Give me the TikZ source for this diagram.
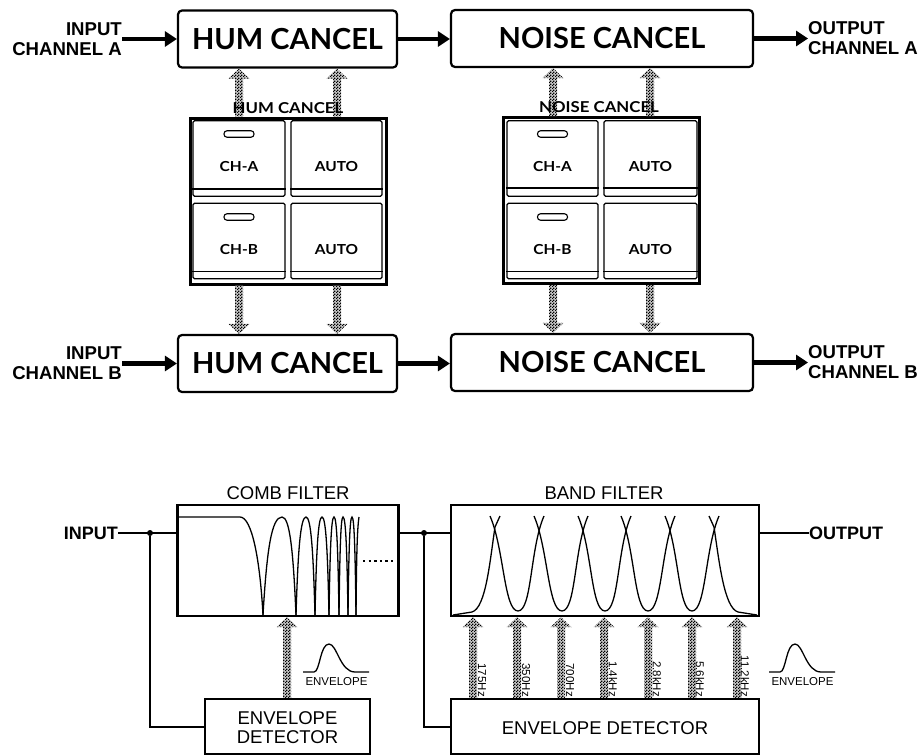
\documentclass[tikz,border=0pt]{standalone}
\usepackage{fontspec}
\setmainfont{Liberation Sans}
\newfontfamily\opt{Lato}
\newfontfamily\optwide[FakeStretch=1.12]{Lato}
\usetikzlibrary{arrows.meta,calc,patterns,positioning}
\pgfdeclarepatternformonly{checkfine}{\pgfpointorigin}{\pgfqpoint{3pt}{3pt}}{\pgfqpoint{3pt}{3pt}}{%
  \pgfpathrectangle{\pgfpointorigin}{\pgfqpoint{1.5pt}{1.5pt}}%
  \pgfpathrectangle{\pgfqpoint{1.5pt}{1.5pt}}{\pgfqpoint{1.5pt}{1.5pt}}%
  \pgfusepath{fill}}
\tikzset{
  rbox/.style={draw,line width=2.2pt,rounded corners=4pt,minimum height=57pt,inner sep=0pt,
    font=\opt\bfseries\fontsize{29}{29}\selectfont},
  sbox/.style={draw,line width=2.4pt,inner sep=0pt},
  sboxtxt/.style={inner sep=0pt,font=\fontsize{18.5}{19}\selectfont,align=center},
  panelbox/.style={draw,line width=3pt,inner sep=0pt},
  keybox/.style={draw,line width=1.1pt,rounded corners=1.5pt,inner sep=0pt,minimum height=75.5pt},
  slotbox/.style={draw,line width=1.1pt,rounded corners=3pt,minimum width=30pt,minimum height=6.5pt,inner sep=0pt},
  keytxt/.style={inner sep=0pt,font=\optwide\bfseries\fontsize{13.8}{14}\selectfont},
  ptitle/.style={inner sep=0pt,font=\optwide\fontsize{15}{15}\selectfont\bfseries},
  iolabel/.style={inner sep=0pt,font=\bfseries\fontsize{18.6}{20}\selectfont},
  ftitle/.style={inner sep=0pt,font=\fontsize{18.5}{20}\selectfont},
  envlabel/.style={inner sep=0pt,font=\fontsize{11.5}{12}\selectfont},
  freqlabel/.style={inner sep=0pt,rotate=-90,anchor=east,font=\fontsize{11.5}{12}\selectfont},
  mainarrow/.style={line width=4.5pt,-{Triangle[length=12pt,width=15pt]}},
  wire/.style={line width=2pt},
  curve/.style={line width=1.3pt},
  junction/.style={circle,fill=black,inner sep=0pt,minimum size=6pt},
  hatched/.style={pattern=checkfine,preaction={fill=black!22}}
}
\newcommand\hatcharrow[2]{%
  \coordinate (hs) at (#1);\coordinate (ht) at (#2);
  \coordinate (hb) at ($(ht)!10pt!(hs)$);
  \path[hatched] ($(hs)!4pt!90:(ht)$) -- ($(hb)!4pt!-90:(hs)$) -- ($(hb)!10.5pt!-90:(hs)$) -- (ht)
    -- ($(hb)!10.5pt!90:(hs)$) -- ($(hb)!4pt!90:(hs)$) -- ($(hs)!4pt!-90:(ht)$) -- cycle;
}
\newcommand\keypad[6]{% prefix, left centre, left width, right centre, right width, line y
  \node[keybox,minimum width=#3pt] (#1k1) at (#2,158.5) {};
  \node[keybox,minimum width=#5pt] (#1k2) at (#4,158.5) {};
  \node[keybox,minimum width=#3pt] (#1k3) at (#2,241) {};
  \node[keybox,minimum width=#5pt] (#1k4) at (#4,241) {};
  \draw[line width=1.6pt] (#1k1.west |- 0,#6) -- (#1k1.east |- 0,#6);
  \draw[line width=1.6pt] (#1k2.west |- 0,#6) -- (#1k2.east |- 0,#6);
  \draw[line width=1pt] (#1k3.west |- 0,271) -- (#1k3.east |- 0,271);
  \draw[line width=1pt] (#1k4.west |- 0,271) -- (#1k4.east |- 0,271);
  \node[slotbox] (#1s1) at (#2,134) {};
  \node[slotbox] (#1s3) at (#2,217) {};
  \node[keytxt] (#1t1) at (#2,167) {CH-A};
  \node[keytxt] (#1t2) at (#4,167) {AUTO};
  \node[keytxt] (#1t3) at (#2,250) {CH-B};
  \node[keytxt] (#1t4) at (#4,250) {AUTO};
}
\newcommand\envsketch[2]{% left x, name
  \draw[line width=1.3pt] (#1,672) -- (#1+11,672) .. controls (#1+17,672) and (#1+17,644) .. (#1+26,644)
    .. controls (#1+34,644) and (#1+37,672) .. (#1+52,672) -- (#1+66,672);
  \node[envlabel] (#2) at (#1+33.5,682) {ENVELOPE};
}
\begin{document}
\begin{tikzpicture}[x=1pt,y=-1pt]
\useasboundingbox (0,0) rectangle (921,755);
% top and bottom rows
\node[rbox,minimum width=219pt] (humA) at (287.5,39) {HUM CANCEL};
\node[rbox,minimum width=302pt] (noiseA) at (602,38.5) {NOISE CANCEL};
\node[rbox,minimum width=219pt] (humB) at (287.5,363.5) {HUM CANCEL};
\node[rbox,minimum width=302pt] (noiseB) at (602,362.5) {NOISE CANCEL};
\node[iolabel,align=right,anchor=east] (inA) at (122,39) {INPUT\\CHANNEL A};
\node[iolabel,align=right,anchor=east] (inB) at (122,363.5) {INPUT\\CHANNEL B};
\node[iolabel,align=left,anchor=west] (outA) at (808,38.5) {OUTPUT\\CHANNEL A};
\node[iolabel,align=left,anchor=west] (outB) at (808,362.5) {OUTPUT\\CHANNEL B};
\draw[mainarrow] (inA.east) -- (humA.west);
\draw[mainarrow] (humA.east) -- (humA.east -| noiseA.west);
\draw[mainarrow] (noiseA.east) -- (outA.west);
\draw[mainarrow] (inB.east) -- (humB.west);
\draw[mainarrow] (humB.east) -- (humB.east -| noiseB.west);
\draw[mainarrow] (noiseB.east) -- (outB.west);
% panels
\node[panelbox,minimum width=196pt,minimum height=166pt] (panelH) at (288,201) {};
\node[panelbox,minimum width=196pt,minimum height=166pt] (panelN) at (601.5,200.5) {};
\keypad{h}{239}{92}{336.5}{91}{189}
\keypad{n}{552.5}{91}{650.5}{93}{188}
% hatched arrows
\hatcharrow{239,0 |- panelH.north}{239,0 |- humA.south}
\hatcharrow{337,0 |- panelH.north}{337,0 |- humA.south}
\hatcharrow{553,0 |- panelN.north}{553,0 |- noiseA.south}
\hatcharrow{650,0 |- panelN.north}{650,0 |- noiseA.south}
\hatcharrow{239,0 |- panelH.south}{239,0 |- humB.north}
\hatcharrow{337,0 |- panelH.south}{337,0 |- humB.north}
\hatcharrow{553,0 |- panelN.south}{553,0 |- noiseB.north}
\hatcharrow{650,0 |- panelN.south}{650,0 |- noiseB.north}
\node[ptitle] (titleH) at (288,108) {HUM CANCEL};
\node[ptitle] (titleN) at (599,107) {NOISE CANCEL};
% lower section
\node[sbox,minimum width=221pt,minimum height=111pt] (comb) at (288,560.5) {};
\node[sbox,minimum width=308pt,minimum height=111pt] (band) at (605,560.5) {};
\node[sbox,minimum width=165pt,minimum height=55pt] (env1) at (287.5,726.5) {};
\node[sbox,minimum width=308pt,minimum height=55pt] (env2) at (605,726.5) {};
\node[sboxtxt] (env1t) at (287.5,728) {ENVELOPE\\DETECTOR};
\node[sboxtxt] (env2t) at (605,728) {ENVELOPE DETECTOR};
\node[ftitle] (combT) at (288,493) {COMB FILTER};
\node[ftitle] (bandT) at (604,493) {BAND FILTER};
\node[inner sep=0pt,font=\bfseries\fontsize{18}{20}\selectfont,anchor=east] (inL) at (118,533) {INPUT};
\node[inner sep=0pt,font=\bfseries\fontsize{18}{20}\selectfont,anchor=west] (outL) at (809,533) {OUTPUT};
\coordinate (in1) at (comb.west |- inL.east);
\node[junction] (j1) at (150,533) {};
\node[junction] (j2) at (424,533) {};
\draw[wire] (inL.east) -- (in1);
\draw[wire] (comb.east |- in1) -- (band.west |- in1);
\draw[wire] (band.east |- in1) -- (outL.west);
\draw[wire] (j1) |- (env1.west);
\draw[wire] (j2) |- (env2.west);
% comb response
\draw[curve] (179,517) -- (240,517) .. controls (252,517) and (260,560) .. (263,615);
\foreach \a/\p/\b in {263/282/296, 296/306/315, 315/322/329, 329/334/339, 339/343/348, 348/352/356}{
  \draw[curve] (\a,615) .. controls ({\a+0.2*(\p-\a)},550) and ({\p-0.55*(\p-\a)},517) .. (\p,517)
     .. controls ({\p+0.55*(\b-\p)},517) and ({\b-0.2*(\b-\p)},550) .. (\b,615);
}
\draw[curve] (356,615) .. controls (356.5,560) and (357,530) .. (359,517);
\draw[line width=2.4pt,dash pattern=on 2.4pt off 3.2pt] (363,561) -- (394,561);
% band response
\foreach \c/\b/\d in {495/518/539, 539/562/583, 583/605/626, 626/648/670, 670/692/714}{
  \draw[curve] (\c-5,516) .. controls (\c+9,548) and (\b-14,611) .. (\b,611)
     .. controls (\b+14,611) and (\d-9,548) .. (\d+5,516);
}
\draw[curve] (453,615) -- (472,612) .. controls (486,608) and (490,560) .. (495,527) -- (500,516);
\draw[curve] (757,615) -- (738,612) .. controls (724,608) and (719,560) .. (714,527) -- (709,516);
% arrows from detectors
\hatcharrow{287,0 |- env1.north}{287,0 |- comb.south}
\foreach \x/\l/\lx in {473/175Hz/482, 517/350Hz/526, 561/700Hz/570, 604/1.4kHz/613, 648/2.8kHz/657, 692/5.6kHz/700, 737/11.2kHz/745}{
  \hatcharrow{\x,0 |- env2.north}{\x,0 |- band.south}
  \node[freqlabel] (f\x) at (\lx,697) {\l};
}
\envsketch{303}{envA}
\envsketch{769}{envB}
\end{tikzpicture}
\end{document}
